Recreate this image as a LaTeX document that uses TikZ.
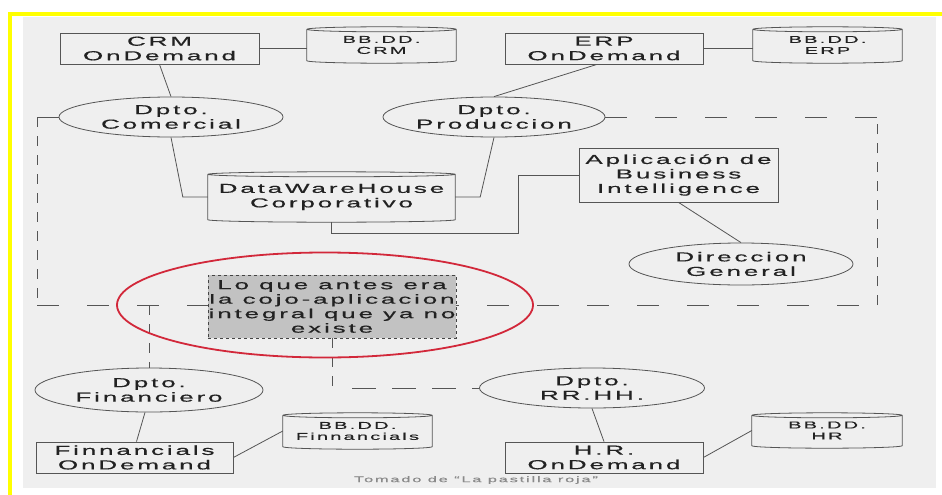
\documentclass[tikz,border=0pt]{standalone}
\usepackage{fontspec}
\setmainfont{Liberation Sans}[FakeStretch=2.0,LetterSpace=22,FakeBold=0.5]
\usetikzlibrary{shapes.geometric,calc}

\definecolor{frame}{HTML}{FFFF00}
\definecolor{panel}{HTML}{EFEFEF}
\definecolor{ink}{HTML}{555555}
\definecolor{txt}{HTML}{222222}
\definecolor{halo}{HTML}{D2283A}
\definecolor{boxgray}{HTML}{C2C2C2}
\definecolor{note}{HTML}{8A8A8A}

% outline of a database drum around a named node
\newcommand\drumoutline[1]{%
  \draw[ink,line width=0.8pt] let \p1=(#1.north west), \p2=(#1.south east), \n1={(\x2-\x1)/2} in
    ([yshift=-2.5pt]#1.north west) -- ([yshift=2.5pt]#1.south west)
    arc[start angle=180,end angle=360,x radius=\n1,y radius=2.5pt]
    -- ([yshift=-2.5pt]#1.north east)
    arc[start angle=0,end angle=180,x radius=\n1,y radius=2.5pt]
    ([yshift=-2.5pt]#1.north west)
    arc[start angle=180,end angle=360,x radius=\n1,y radius=2.5pt];}

\begin{document}
\begin{tikzpicture}[x=1pt,y=-1pt,
  app/.style={draw=ink,line width=0.8pt,fill=panel,rectangle,inner sep=0pt,text=txt,
    font=\fontsize{13}{14.5}\selectfont,align=center},
  dept/.style={draw=ink,line width=0.8pt,fill=panel,ellipse,inner sep=0pt,text=txt,
    font=\fontsize{13}{14.5}\selectfont,align=center},
  store/.style={fill=panel,rectangle,inner sep=0pt,text=txt,
    font=\fontsize{10}{11}\selectfont,align=center},
  link/.style={draw=ink,line width=0.8pt},
  hbound/.style={draw=ink,line width=0.8pt,dash pattern=on 22pt off 28pt},
  vbound/.style={draw=ink,line width=0.8pt,dash pattern=on 10pt off 9pt},
  legacy/.style={draw=ink!80!black,dashed,line width=0.7pt,fill=boxgray,inner sep=0pt,text=txt,
    font=\fontsize{13}{14.5}\selectfont,align=center},
]
\useasboundingbox (0,0) rectangle (942,495);
\clip (0,0) rectangle (942,495);
\fill[white] (0,0) rectangle (942,495);

% page frame (left and top edges) and panel
\draw[frame,line width=4pt] (10,495) -- (10,14) -- (942,14);
\fill[panel] (23,17) rectangle (936,488);

% corners of the dashed boundary
\coordinate (tl) at (37,117);
\coordinate (tr) at (877,117);
\coordinate (bl) at (37,305);
\coordinate (br) at (877,305);

% applications
\node[app,minimum width=199pt,minimum height=31pt] (crm) at (159.5,48.5) {CRM\\OnDemand};
\node[app,minimum width=198pt,minimum height=31pt] (erp) at (604,48.5) {ERP\\OnDemand};
\node[app,minimum width=199pt,minimum height=54pt] (bi) at (678.5,175) {Aplicación de\\Business\\Intelligence};
\node[app,minimum width=197pt,minimum height=31pt] (finapp) at (134.5,457.5) {Finnancials\\OnDemand};
\node[app,minimum width=198pt,minimum height=31pt] (hrapp) at (604,457.5) {H.R.\\OnDemand};

% databases
\node[store,minimum width=149pt,minimum height=36pt] (dbcrm) at (381.5,45) {BB.DD.\\CRM};
\node[store,minimum width=149pt,minimum height=36pt] (dberp) at (827.5,45) {BB.DD.\\ERP};
\node[store,minimum width=247pt,minimum height=50pt,font=\fontsize{13}{14.5}\selectfont] (dwh) at (331.5,197) {DataWareHouse\\Corporativo};
\node[store,minimum width=149pt,minimum height=36pt] (dbfin) at (357.5,431) {BB.DD.\\Finnancials};
\node[store,minimum width=150pt,minimum height=35pt] (dbhr) at (827,430.5) {BB.DD.\\HR};
\drumoutline{dbcrm}
\drumoutline{dberp}
\drumoutline{dwh}
\drumoutline{dbfin}
\drumoutline{dbhr}

% departments
\node[dept,minimum width=224pt,minimum height=40pt] (com) at (171,117) {Dpto.\\Comercial};
\node[dept,minimum width=222pt,minimum height=40pt] (prod) at (494,117) {Dpto.\\Produccion};
\node[dept,minimum width=224pt,minimum height=42pt] (dir) at (741,264) {Direccion\\General};
\node[dept,minimum width=228pt,minimum height=44pt] (fin) at (149,390) {Dpto.\\Financiero};
\node[dept,minimum width=225pt,minimum height=40pt] (rrhh) at (592,388) {Dpto.\\RR.HH.};

% dashed boundary of the former integrated application
\draw[hbound] (com.west) -- (tl);
\draw[vbound] (tl) -- (bl);
\draw[hbound] (bl) -- (br);
\draw[vbound] (br) -- (tr);
\draw[hbound] (prod.east) -- (tr);
\draw[vbound] (fin.north |- bl) -- (fin.north);

% legacy note
\node[legacy,minimum width=248pt,minimum height=63pt] (old) at (332,306.5)
  {Lo que antes era\\la cojo-aplicacion\\integral que ya no\\existe};
\draw[vbound] (old.south) -- (old.south |- rrhh.west);
\draw[link,dash pattern=on 24pt off 16pt] ([xshift=20pt]old.south |- rrhh.west) -- (rrhh.west);

% connectors
\draw[link] (crm.east) -- (crm.east -| dbcrm.west);
\draw[link] (erp.east) -- (erp.east -| dberp.west);
\draw[link] (crm.south) -- (com.north);
\draw[link] ([xshift=-7pt]erp.south) -- (prod.north);
\draw[link] (com.south) -- ([xshift=-25pt]dwh.west) -- (dwh.west);
\draw[link] (prod.south) -- ([xshift=25pt]dwh.east) -- (dwh.east);
\draw[link] (dwh.south) -- ++(0,11) -| ([xshift=-60pt]bi.west) -- (bi.west);
\draw[link] (bi.south) -- (dir.north);
\draw[link] ([xshift=-4pt]fin.south) -- ([xshift=2pt]finapp.north);
\draw[link] (finapp.east) -- (dbfin.west);
\draw[link] (rrhh.south) -- (hrapp.north);
\draw[link] (hrapp.east) -- (dbhr.west);

% highlight ring
\node[draw=halo,line width=1.8pt,ellipse,minimum width=416pt,minimum height=105pt] (ring) at (325,305) {};

% source note
\node[text=note,font=\fontsize{8.2}{9}\selectfont,inner sep=0pt] (src) at (476,480) {Tomado de “La pastilla roja”};
\end{tikzpicture}
\end{document}
